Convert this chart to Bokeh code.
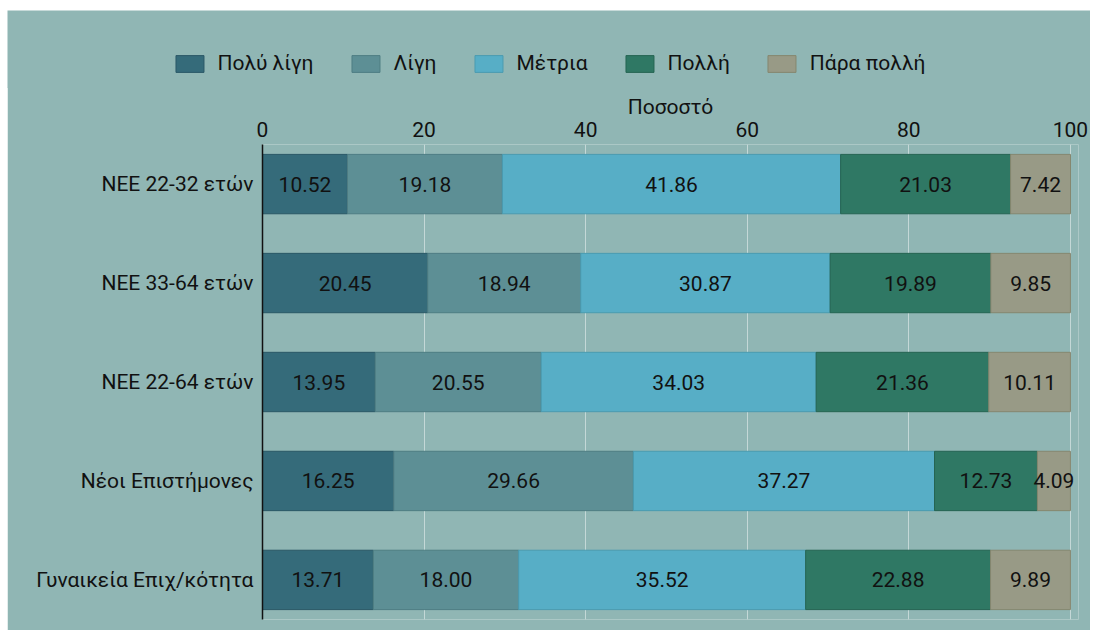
import numpy as np
from bokeh.plotting import figure
from bokeh.layouts import column
from bokeh.models import Range1d, FixedTicker, Legend, LegendItem, ColumnDataSource, Grid
from bokeh.core.properties import value
from bokeh.embed import file_html
from bokeh.resources import INLINE

categories = ["ΝΕΕ 22-32 ετών", "ΝΕΕ 33-64 ετών", "ΝΕΕ 22-64 ετών", "Νέοι Επιστήμονες", "Γυναικεία Επιχ/κότητα"]
series_names = ["Πολύ λίγη", "Λίγη", "Μέτρια", "Πολλή", "Πάρα πολλή"]
poly_ligi = [10.52, 20.45, 13.95, 16.25, 13.71]
ligi = [19.18, 18.94, 20.55, 29.66, 18.00]
metria = [41.86, 30.87, 34.03, 37.27, 35.52]
polli = [21.03, 19.89, 21.36, 12.73, 22.88]
para_polli = [7.42, 9.85, 10.11, 4.09, 9.89]
x_ticks = [0, 20, 40, 60, 80, 100]
colors = ["#356b7a", "#5d8f95", "#57aec6", "#2f7864", "#989a86"]
outline_colors = ["#2a5866", "#4e7d83", "#4a9bb0", "#256452", "#85876f"]

BG = "#90b6b4"
FONT = "Roboto"
FS = "21px"
TXT = "#111111"

# ---- legend strip (top) ----
lg = figure(frame_width=1083, frame_height=78, output_backend="svg", toolbar_location=None,
            x_axis_location=None, y_axis_location=None,
            x_range=Range1d(0, 100), y_range=Range1d(4.4, -0.4),
            min_border_left=0, min_border_right=0, min_border_top=0, min_border_bottom=0)
lg.margin = (10, 0, -1, 7)
lg.background_fill_color = BG
lg.border_fill_color = BG
lg.outline_line_color = None
for obj in list(lg.center) + list(lg.renderers):
    if isinstance(obj, Grid):
        obj.visible = False

# ---- main chart ----
p = figure(frame_width=816, frame_height=475, output_backend="svg", toolbar_location=None,
           x_axis_location="above", x_range=Range1d(0, 101), y_range=Range1d(4.4, -0.4),
           min_border_left=255, min_border_right=12, min_border_bottom=11, min_border_top=57)
p.margin = (0, 0, 0, 7)
p.background_fill_color = BG
p.border_fill_color = BG
p.outline_line_color = None

series = [poly_ligi, ligi, metria, polli, para_polli]
ys = list(range(len(categories)))
left = np.zeros(len(categories))
items = []
for name, vals, col, ocol in zip(series_names, series, colors, outline_colors):
    vals = np.array(vals, dtype=float)
    right = left + vals
    src = ColumnDataSource(dict(y=ys, left=left, right=right,
                                mid=(left + right) / 2,
                                txt=["{:.2f}".format(v) for v in vals]))
    p.hbar(y="y", left="left", right="right", height=0.6, source=src,
           fill_color=col, line_color=ocol, line_width=1)
    p.text(x="mid", y="y", text="txt", source=src, text_align="center",
           text_baseline="middle", text_font=value(FONT), text_font_size=FS,
           text_color=TXT)
    rl = lg.hbar(y="y", left="left", right="right", height=0.6, source=src,
                 fill_color=col, line_color=ocol, line_width=1, visible=False)
    items.append(LegendItem(label=name, renderers=[rl]))
    left = right

legend = Legend(items=items, orientation="horizontal", location="bottom_center",
                background_fill_alpha=0, border_line_color=None,
                label_text_font=FONT, label_text_font_size=FS, label_text_color=TXT,
                glyph_width=35, glyph_height=21, label_standoff=11, spacing=34,
                margin=13, padding=0)
lg.add_layout(legend, "center")

xa = p.xaxis[0]
xa.ticker = FixedTicker(ticks=x_ticks)
xa.axis_label = "Ποσοστό"
xa.axis_label_text_font = FONT
xa.axis_label_text_font_size = FS
xa.axis_label_text_font_style = "normal"
xa.axis_label_text_color = TXT
xa.axis_label_standoff = 0
xa.major_label_text_font = FONT
xa.major_label_text_font_size = FS
xa.major_label_text_color = TXT
xa.major_label_standoff = 8
xa.axis_line_color = None
xa.major_tick_line_color = None
xa.minor_tick_line_color = None
xa.major_tick_out = 0
xa.major_tick_in = 0
xa.minor_tick_out = 0

ya = p.yaxis[0]
ya.ticker = FixedTicker(ticks=ys)
ya.major_label_overrides = {i: c for i, c in enumerate(categories)}
ya.major_label_text_font = FONT
ya.major_label_text_font_size = FS
ya.major_label_text_color = TXT
ya.major_label_standoff = 9
ya.axis_line_color = "#111111"
ya.axis_line_width = 1.5
ya.major_tick_line_color = None
ya.minor_tick_line_color = None
ya.major_tick_out = 0
ya.major_tick_in = 0
ya.minor_tick_out = 0

p.xgrid.ticker = FixedTicker(ticks=x_ticks)
p.xgrid.grid_line_color = "#e8efee"
p.xgrid.grid_line_alpha = 0.6
p.ygrid.grid_line_color = None

layout = column(column(lg), p, spacing=0)
open("out.html", "w").write(file_html(layout, INLINE))
